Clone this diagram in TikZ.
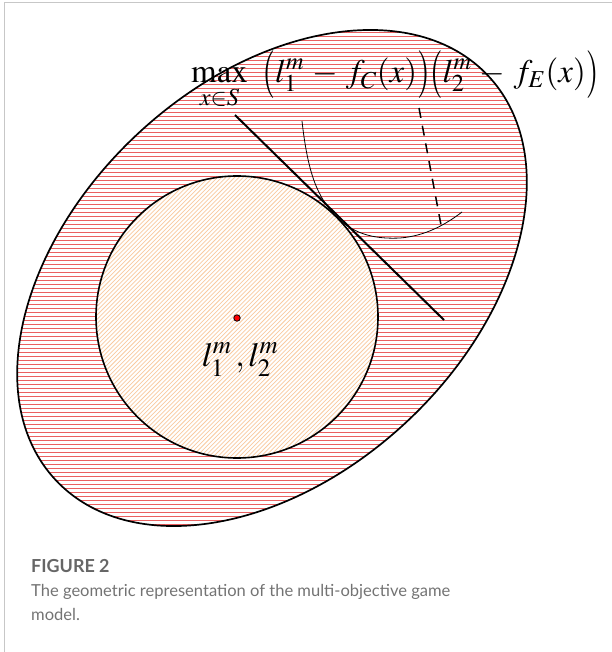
\documentclass[tikz,border=0pt]{standalone}
\usepackage{amsmath}
\usepackage{graphicx}
\usepackage{mathptmx}
\usepackage[no-math]{fontspec}
\newfontfamily\capfont{Lato}
\definecolor{hatchred}{RGB}{234,96,96}
\definecolor{hatchorange}{RGB}{249,202,160}
\newcommand{\tallopen}{\mathopen{\vcenter{\hbox{\scalebox{1}[1.45]{$($}}}}}
\newcommand{\tallclose}{\mathclose{\vcenter{\hbox{\scalebox{1}[1.45]{$)$}}}}}

\begin{document}
\begin{tikzpicture}
    [x=1bp, y=1bp,
    rim/.style={draw=black, line width=1.7bp},
    hatchR/.style={draw=hatchred, line width=0.75bp},
    hatchO/.style={draw=hatchorange, line width=0.75bp},
    tangent/.style={line width=2bp},
    level/.style={line width=0.8bp},
    guide/.style={line width=1.5bp, dash pattern=on 10bp off 8bp},
    dot/.style={circle, inner sep=0pt, minimum size=6.5bp, fill=red, draw=black, line width=0.8bp},
    frame/.style={draw=black!22, line width=1bp},
    caption/.style={font=\capfont, text=black!55, anchor=base west, inner sep=0pt, align=left}]
    \useasboundingbox (0,0) rectangle (612,-652);
        %% frame of the figure
    \draw[frame] (4.5,-652) -- (4.5,-2.5) -- (612,-2.5);

        %% feasible set, hatched
    \begin{scope}
        \clip[rotate around={43:(272,-278)}] (272,-278) ellipse [x radius=296bp, y radius=197bp];
        \foreach \k in {0,...,126}
            \draw[hatchR] (0,-24.5-4*\k) -- (612,-24.5-4*\k);
    \end{scope}
    \draw[rim, rotate around={43:(272,-278)}] (272,-278) ellipse [x radius=296bp, y radius=197bp];

        %% ideal disc, hatched
    \fill[white] (237,-317) circle [radius=141bp];
    \begin{scope}
        \clip (237,-317) circle [radius=141bp];
        \foreach \k in {0,...,96}
            \draw[hatchO] (90,90-756+4.3*\k) -- (385,385-756+4.3*\k);
    \end{scope}
    \draw[rim, line width=1.6bp] (237,-317) circle [radius=141bp];

        %% tangent line and level curve
    \coordinate (touch) at (336.7,-217.3);
    \coordinate (tanA) at (235,-115);
    \coordinate (tanB) at (444,-320);
    \coordinate (curveA) at (302,-121);
    \coordinate (curveB) at (462,-212);
    \coordinate (dashA) at (419,-108);
    \coordinate (dashB) at (441,-225);

    \draw[tangent] (tanA) -- (tanB);
    \draw[level] (curveA) .. controls (308,-175) and (318,-198) .. (touch)
        .. controls (356,-236) and (378,-239) .. (400,-238)
        .. controls (425,-236) and (445,-225) .. (curveB);
    \draw[guide] (dashA) -- (dashB);

        %% ideal point
    \node[dot] (ideal) at (237,-318) {};
    \node[anchor=base, inner sep=0pt] (idealLab) at (240,-366)
        {\fontsize{34}{40}\selectfont $l_1^m\,,l_2^m$};

        %% objective
    \node[anchor=base west, inner sep=0pt] (obj) at (191,-83)
        {\fontsize{33}{38}\selectfont $\displaystyle\max_{x\in S}\mkern8mu\tallopen l_1^m\,-\,f_C(x)\tallclose\tallopen l_2^m\,-\,f_E(x)\tallclose$};

        %% caption
    \node[caption, text=black!60, font=\capfont\fontsize{18}{22}\selectfont\bfseries] (figNo) at (31,-572) {FIGURE 2};
    \node[caption, font=\capfont\fontsize{16.6}{23.5}\selectfont] (figText) at (31,-620)
        {The geometric representation of the multi-objective game\\model.};
\end{tikzpicture}
\end{document}
